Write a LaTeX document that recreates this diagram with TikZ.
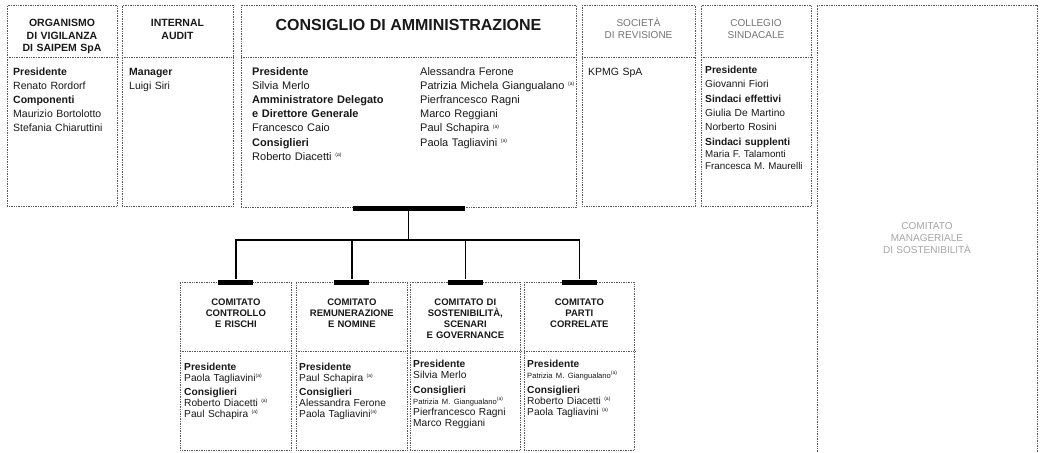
\documentclass[tikz,border=0pt]{standalone}
\usepackage{fontspec}
\setmainfont{Liberation Sans}
\newcommand{\supa}{\raisebox{3.6pt}{\fontsize{5}{5}\selectfont(a)}}
\lineskiplimit=-6pt
\begin{document}
\begin{tikzpicture}[x=1pt,y=-1pt,
  box/.style={draw=black!65, dash pattern=on 0.8pt off 0.9pt, line width=0.7pt, inner sep=0pt, anchor=north west},
  divider/.style={draw=black!65, dash pattern=on 0.8pt off 0.9pt, line width=0.7pt},
  hdr/.style={font=\bfseries\fontsize{10.5}{12.5}\selectfont, align=center, anchor=base, inner sep=0pt, text width=104pt, text=black!90},
  ghdr/.style={font=\fontsize{10}{12}\selectfont, align=center, anchor=base, inner sep=0pt, text width=104pt, text=black!55},
  chdr/.style={font=\bfseries\fontsize{9.5}{11}\selectfont, align=center, anchor=base, inner sep=0pt, text width=108pt, text=black!90},
  body/.style={font=\fontsize{10.5}{14}\selectfont, align=left, anchor=base west, inner sep=0pt, text width=160pt, text=black!90},
  cbody/.style={font=\fontsize{10.2}{11}\selectfont, align=left, anchor=base west, inner sep=0pt, text width=120pt, text=black!90},
  bar/.style={fill=black, minimum height=5pt, inner sep=0pt, minimum width=35pt},
  conn/.style={line width=1.5pt, draw=black}]

\useasboundingbox[fill=white] (0,0) rectangle (1040,452);

% ---------- top boxes ----------
\node[box, minimum width=110pt, minimum height=201pt] (odv) at (7,5) {};
\node[box, minimum width=111pt, minimum height=201pt] (ia) at (122,5) {};
\node[box, minimum width=335pt, minimum height=202pt] (cda) at (241,5) {};
\node[box, minimum width=113pt, minimum height=201pt] (sdr) at (582,5) {};
\node[box, minimum width=110pt, minimum height=201pt] (cs) at (701,5) {};

\foreach \b in {odv,ia,cda,sdr,cs}{
  \draw[divider] (\b.west |- 0,57) -- (\b.east |- 0,57);
}

% big right box (runs off the bottom of the page)
\draw[divider] (817,452) -- (817,5) -- (1037,5) -- (1037,452);
\node[font=\fontsize{10}{12}\selectfont, text=black!35, align=center, anchor=base, inner sep=0pt, text width=200pt] (cmst) at (927,229.5) {COMITATO\\MANAGERIALE\\DI SOSTENIBILITÀ};

% titles
\node[hdr] (odvt) at (62,27) {ORGANISMO\\DI VIGILANZA\\DI SAIPEM SpA};
\node[hdr] (iat) at (177.5,27) {INTERNAL\\AUDIT};
\node[font=\bfseries\fontsize{16}{18}\selectfont, anchor=base, inner sep=0pt, text=black!90] (cdat) at (408.5,31) {CONSIGLIO DI AMMINISTRAZIONE};
\node[ghdr] (sdrt) at (638.5,27) {SOCIETÀ\\DI REVISIONE};
\node[ghdr] (cst) at (756,27) {COLLEGIO\\SINDACALE};

% bodies
\node[body] (odvb) at (13,75) {\textbf{Presidente}\\Renato Rordorf\\\textbf{Componenti}\\Maurizio Bortolotto\\Stefania Chiaruttini};
\node[body] (iab) at (129,75) {\textbf{Manager}\\Luigi Siri};
\node[body, font=\fontsize{11}{14.2}\selectfont] (cdab1) at (252,75) {\textbf{Presidente}\\Silvia Merlo\\\textbf{Amministratore Delegato}\\\textbf{e Direttore Generale}\\Francesco Caio\\\textbf{Consiglieri}\\Roberto Diacetti \supa};
\node[body, font=\fontsize{11}{14.2}\selectfont] (cdab2) at (420,75) {Alessandra Ferone\\Patrizia Michela Giangualano \supa\\Pierfrancesco Ragni\\Marco Reggiani\\Paul Schapira \supa\\Paola Tagliavini \supa};
\node[body] (sdrb) at (588,75) {KPMG SpA};
\node[body, font=\fontsize{10.2}{14.5}\selectfont] (csb1) at (705,73) {\textbf{Presidente}\\Giovanni Fiori\\\textbf{Sindaci effettivi}\\Giulia De Martino\\Norberto Rosini\\\textbf{Sindaci supplenti}};
\node[body, font=\fontsize{9.8}{12}\selectfont] (csb2) at (705,157) {Maria F. Talamonti\\Francesca M. Maurelli};

% ---------- committees ----------
\node[box, minimum width=111pt, minimum height=168pt] (c1) at (180,282) {};
\node[box, minimum width=111pt, minimum height=168pt] (c2) at (296,282) {};
\node[box, minimum width=110pt, minimum height=168pt] (c3) at (410,282) {};
\node[box, minimum width=110pt, minimum height=168pt] (c4) at (524,282) {};

\foreach \b in {c1,c2,c3,c4}{
  \draw[divider] (\b.west |- 0,351) -- (\b.east |- 0,351);
}

\node[chdr] (c1t) at (c1.north |- 0,305.5) {COMITATO\\CONTROLLO\\E RISCHI};
\node[chdr] (c2t) at (c2.north |- 0,305.5) {COMITATO\\REMUNERAZIONE\\E NOMINE};
\node[chdr] (c3t) at (c3.north |- 0,305.5) {COMITATO DI\\SOSTENIBILITÀ,\\SCENARI\\E GOVERNANCE};
\node[chdr] (c4t) at (c4.north |- 0,305.5) {COMITATO\\PARTI\\CORRELATE};

\node[cbody] (c1b) at (184,370.5) {\textbf{Presidente}\\Paola Tagliavini\supa\\[3pt]\textbf{Consiglieri}\\Roberto Diacetti \supa\\Paul Schapira \supa};
\node[cbody] (c2b) at (299,370.5) {\textbf{Presidente}\\Paul Schapira \supa\\[3pt]\textbf{Consiglieri}\\Alessandra Ferone\\Paola Tagliavini\supa};
\node[cbody] (c3b) at (413,367.5) {\textbf{Presidente}\\Silvia Merlo\\[4pt]\textbf{Consiglieri}\\{\fontsize{7.6}{8}\selectfont Patrizia M. Giangualano}\supa\\Pierfrancesco Ragni\\Marco Reggiani};
\node[cbody] (c4b) at (527,367.5) {\textbf{Presidente}\\{\fontsize{7.6}{8}\selectfont Patrizia M. Giangualano}\supa\\[4pt]\textbf{Consiglieri}\\Roberto Diacetti \supa\\Paola Tagliavini \supa};

% ---------- connectors ----------
\node[bar, minimum width=112pt] (bar0) at (408.5,208) {};
\node[bar] (b1) at (c1.north) {};
\node[bar] (b2) at (c2.north) {};
\node[bar] (b3) at (c3.north) {};
\node[bar] (b4) at (c4.north) {};
\coordinate (j) at (408.5,240);

\draw[conn] (bar0.south) -- (j);
\draw[conn] (b1.north) |- (j) -| (b4.north);
\draw[conn] (j) -| (b2.north);
\draw[conn] (j) -| (b3.north);
\end{tikzpicture}
\end{document}
